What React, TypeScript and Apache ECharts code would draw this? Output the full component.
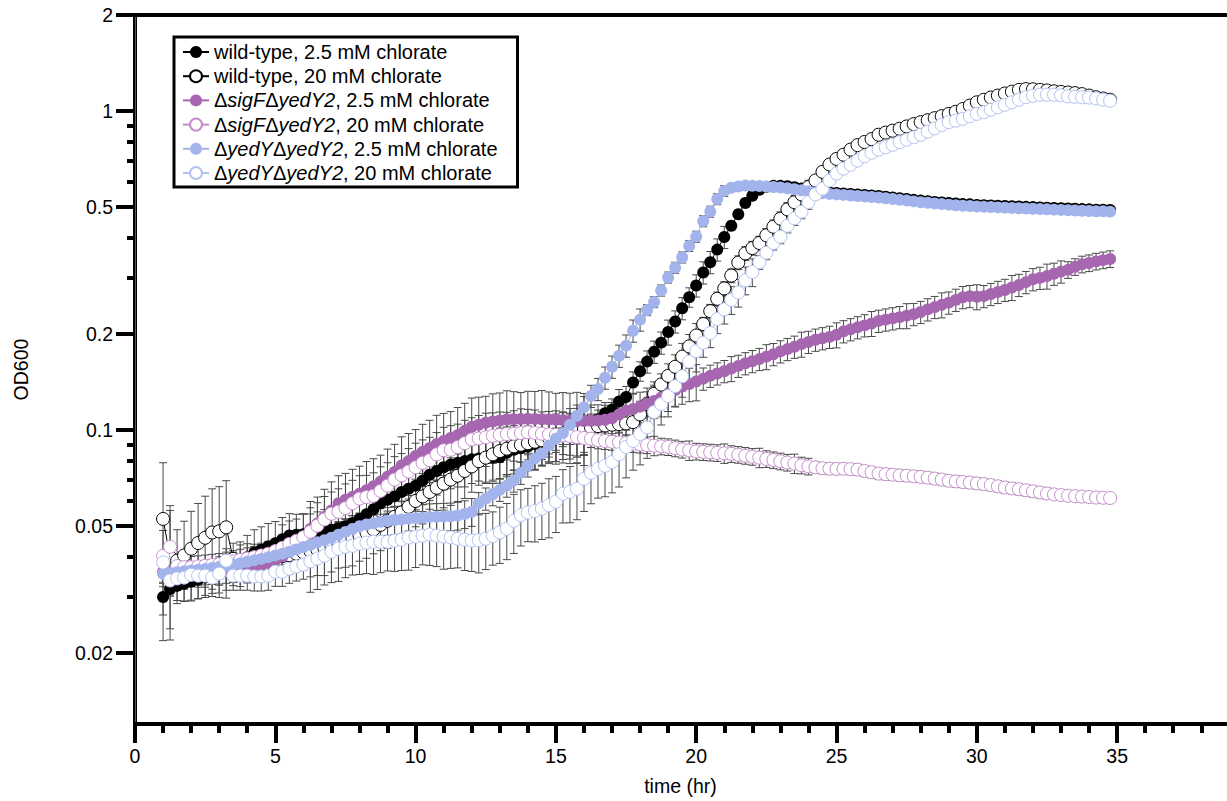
import React, { useEffect, useRef } from "react";
import * as echarts from "echarts";

// Sampling grid: one read every 15 min from 1 h to 34.75 h
const HOURS: number[] = Array.from({ length: 136 }, (_, i) => 1 + i * 0.25);

// OD600 means, one row = 2 h (8 reads)
const wt25 = [
  0.0300, 0.0318, 0.0325, 0.0330, 0.0335, 0.0340, 0.0345, 0.0350,
  0.0355, 0.0362, 0.0370, 0.0385, 0.0400, 0.0413, 0.0422, 0.0432,
  0.0442, 0.0455, 0.0468, 0.0470, 0.0472, 0.0475, 0.0478, 0.0482,
  0.0487, 0.0493, 0.0500, 0.0512, 0.0527, 0.0545, 0.0565, 0.0590,
  0.0605, 0.0620, 0.0640, 0.0655, 0.0670, 0.0695, 0.0725, 0.0745,
  0.0765, 0.0780, 0.0790, 0.0800, 0.0810, 0.0815, 0.0818, 0.0820,
  0.0822, 0.0850, 0.0868, 0.0878, 0.0888, 0.0905, 0.0920, 0.0935,
  0.0950, 0.0965, 0.0980, 0.0995, 0.1010, 0.1040, 0.1080, 0.1130,
  0.1160, 0.1230, 0.1270, 0.1410, 0.1530, 0.1640, 0.1760, 0.1880,
  0.2030, 0.2190, 0.2410, 0.2610, 0.2840, 0.3120, 0.3360, 0.3680,
  0.4030, 0.4370, 0.4750, 0.5150, 0.5430, 0.5670, 0.5790, 0.5830,
  0.583, 0.581, 0.577, 0.572, 0.567, 0.562, 0.559, 0.556,
  0.554, 0.552, 0.550, 0.548, 0.546, 0.544, 0.542, 0.539,
  0.536, 0.533, 0.530, 0.527, 0.524, 0.522, 0.519, 0.517,
  0.515, 0.513, 0.511, 0.510, 0.508, 0.507, 0.506, 0.505,
  0.504, 0.503, 0.502, 0.501, 0.500, 0.499, 0.498, 0.497,
  0.496, 0.495, 0.494, 0.493, 0.492, 0.491, 0.491, 0.490,
];

const wt20 = [
  0.0527, 0.0400, 0.0390, 0.0405, 0.0425, 0.0443, 0.0460, 0.0478,
  0.0482, 0.0496, 0.0395, 0.0390, 0.0390, 0.0392, 0.0395, 0.0397,
  0.0400, 0.0403, 0.0406, 0.0410, 0.0414, 0.0418, 0.0422, 0.0427,
  0.0433, 0.0440, 0.0448, 0.0458, 0.0468, 0.0478, 0.0488, 0.0505,
  0.0520, 0.0535, 0.0552, 0.0575, 0.0600, 0.0620, 0.0640, 0.0660,
  0.0680, 0.0700, 0.0720, 0.0745, 0.0770, 0.0800, 0.0820, 0.0840,
  0.0860, 0.0875, 0.0890, 0.0900, 0.0910, 0.0920, 0.0930, 0.0945,
  0.0960, 0.0975, 0.0990, 0.1000, 0.1010, 0.1020, 0.1030, 0.1035,
  0.1040, 0.1045, 0.1050, 0.1060, 0.1120, 0.1210, 0.1300, 0.1390,
  0.1480, 0.1580, 0.1700, 0.1830, 0.1980, 0.2150, 0.2360, 0.2580,
  0.2780, 0.3050, 0.3350, 0.3580, 0.3720, 0.3860, 0.4080, 0.4340,
  0.4600, 0.4920, 0.5180, 0.5480, 0.5780, 0.6060, 0.6450, 0.6800,
  0.7080, 0.7300, 0.7570, 0.7820, 0.8000, 0.8170, 0.8430, 0.8560,
  0.8680, 0.8800, 0.8950, 0.9100, 0.9230, 0.9360, 0.9500, 0.9640,
  0.9790, 0.9950, 1.0150, 1.0400, 1.0650, 1.0850, 1.1030, 1.1180,
  1.1350, 1.1500, 1.1650, 1.1720, 1.1700, 1.1650, 1.1600, 1.1530,
  1.1480, 1.1430, 1.1380, 1.1300, 1.1180, 1.1050, 1.0950, 1.0850,
];

const sigF25 = [
  0.0360, 0.0358, 0.0356, 0.0355, 0.0355, 0.0355, 0.0356, 0.0357,
  0.0358, 0.0360, 0.0362, 0.0365, 0.0368, 0.0372, 0.0377, 0.0384,
  0.0392, 0.0402, 0.0415, 0.0430, 0.0450, 0.0490, 0.0510, 0.0535,
  0.0560, 0.0590, 0.0605, 0.0618, 0.0632, 0.0648, 0.0667, 0.0690,
  0.0715, 0.0740, 0.0775, 0.0800, 0.0830, 0.0855, 0.0880, 0.0905,
  0.0925, 0.0945, 0.0965, 0.0995, 0.1025, 0.1040, 0.1055, 0.1065,
  0.1072, 0.1080, 0.1082, 0.1084, 0.1085, 0.1084, 0.1082, 0.1080,
  0.1078, 0.1075, 0.1070, 0.1068, 0.1068, 0.1070, 0.1072, 0.1078,
  0.1090, 0.1120, 0.1150, 0.1165, 0.1185, 0.1210, 0.1235, 0.1265,
  0.1300, 0.1335, 0.1370, 0.1395, 0.1420, 0.1450, 0.1480, 0.1505,
  0.1530, 0.1560, 0.1590, 0.1620, 0.1645, 0.1670, 0.1700, 0.1730,
  0.1765, 0.1795, 0.1825, 0.1860, 0.1890, 0.1920, 0.1940, 0.1960,
  0.1990, 0.2040, 0.2070, 0.2100, 0.2130, 0.2160, 0.2200, 0.2220,
  0.2240, 0.2260, 0.2285, 0.2310, 0.2345, 0.2390, 0.2430, 0.2470,
  0.2510, 0.2560, 0.2610, 0.2630, 0.2620, 0.2630, 0.2670, 0.2710,
  0.2750, 0.2800, 0.2850, 0.2910, 0.2970, 0.3000, 0.3040, 0.3090,
  0.3140, 0.3180, 0.3250, 0.3310, 0.3340, 0.3380, 0.3410, 0.3440,
];

const sigF20 = [
  0.0404, 0.0431, 0.0375, 0.0372, 0.0372, 0.0374, 0.0376, 0.0378,
  0.0380, 0.0384, 0.0388, 0.0392, 0.0396, 0.0400, 0.0405, 0.0410,
  0.0418, 0.0428, 0.0440, 0.0450, 0.0462, 0.0480, 0.0502, 0.0525,
  0.0547, 0.0555, 0.0570, 0.0590, 0.0610, 0.0617, 0.0623, 0.0645,
  0.0670, 0.0700, 0.0722, 0.0742, 0.0765, 0.0790, 0.0805, 0.0840,
  0.0865, 0.0868, 0.0885, 0.0910, 0.0935, 0.0942, 0.0950, 0.0960,
  0.0966, 0.0972, 0.0975, 0.0980, 0.0985, 0.0980, 0.0975, 0.0970,
  0.0966, 0.0962, 0.0958, 0.0952, 0.0945, 0.0940, 0.0930, 0.0925,
  0.0920, 0.0915, 0.0910, 0.0906, 0.0902, 0.0898, 0.0894, 0.0890,
  0.0886, 0.0878, 0.0870, 0.0864, 0.0858, 0.0855, 0.0852, 0.0849,
  0.0846, 0.0843, 0.0838, 0.0832, 0.0826, 0.0820, 0.0813, 0.0806,
  0.0799, 0.0792, 0.0786, 0.0776, 0.0770, 0.0765, 0.0760, 0.0757,
  0.0756, 0.0757, 0.0755, 0.0752, 0.0745, 0.0738, 0.0731, 0.0728,
  0.0725, 0.0722, 0.0720, 0.0717, 0.0714, 0.0710, 0.0705, 0.0700,
  0.0694, 0.0691, 0.0688, 0.0685, 0.0681, 0.0678, 0.0673, 0.0667,
  0.0661, 0.0657, 0.0653, 0.0648, 0.0643, 0.0638, 0.0633, 0.0629,
  0.0626, 0.0623, 0.0621, 0.0619, 0.0617, 0.0615, 0.0614, 0.0613,
];

const yedY25 = [
  0.0355, 0.0357, 0.0359, 0.0361, 0.0363, 0.0365, 0.0367, 0.0370,
  0.0373, 0.0376, 0.0379, 0.0383, 0.0387, 0.0391, 0.0395, 0.0400,
  0.0405, 0.0410, 0.0416, 0.0423, 0.0430, 0.0437, 0.0445, 0.0452,
  0.0460, 0.0470, 0.0480, 0.0490, 0.0500, 0.0506, 0.0511, 0.0516,
  0.0520, 0.0523, 0.0525, 0.0528, 0.0530, 0.0532, 0.0534, 0.0535,
  0.0536, 0.0537, 0.0540, 0.0546, 0.0555, 0.0590, 0.0610, 0.0630,
  0.0650, 0.0670, 0.0695, 0.0735, 0.0775, 0.0815, 0.0845, 0.0895,
  0.0940, 0.0980, 0.1040, 0.1110, 0.1180, 0.1280, 0.1345, 0.1460,
  0.1580, 0.1710, 0.1840, 0.2050, 0.2220, 0.2380, 0.2520, 0.2740,
  0.3010, 0.3230, 0.3480, 0.3780, 0.4040, 0.4520, 0.4840, 0.5300,
  0.5620, 0.5750, 0.5800, 0.5840, 0.5830, 0.5820, 0.5800, 0.5780,
  0.576, 0.573, 0.569, 0.565, 0.561, 0.556, 0.553, 0.550,
  0.548, 0.546, 0.544, 0.542, 0.540, 0.538, 0.536, 0.533,
  0.530, 0.527, 0.524, 0.521, 0.518, 0.516, 0.513, 0.511,
  0.509, 0.507, 0.505, 0.504, 0.502, 0.501, 0.500, 0.499,
  0.498, 0.497, 0.496, 0.495, 0.494, 0.493, 0.492, 0.491,
  0.490, 0.489, 0.488, 0.487, 0.486, 0.485, 0.485, 0.484,
];

const yedY20 = [
  0.0385, 0.0338, 0.0343, 0.0345, 0.0352, 0.0350, 0.0350, 0.0345,
  0.0355, 0.0390, 0.0350, 0.0350, 0.0350, 0.0348, 0.0348, 0.0350,
  0.0360, 0.0360, 0.0368, 0.0374, 0.0379, 0.0388, 0.0396, 0.0404,
  0.0416, 0.0425, 0.0431, 0.0434, 0.0441, 0.0444, 0.0447, 0.0447,
  0.0447, 0.0451, 0.0454, 0.0461, 0.0464, 0.0467, 0.0471, 0.0467,
  0.0464, 0.0461, 0.0457, 0.0454, 0.0451, 0.0452, 0.0457, 0.0466,
  0.0478, 0.0491, 0.0520, 0.0542, 0.0552, 0.0558, 0.0568, 0.0582,
  0.0597, 0.0632, 0.0641, 0.0655, 0.0704, 0.0735, 0.0756, 0.0773,
  0.0795, 0.0840, 0.0886, 0.0925, 0.0973, 0.1020, 0.1140, 0.1207,
  0.1280, 0.1374, 0.1475, 0.1640, 0.1770, 0.1880, 0.2015, 0.2230,
  0.2390, 0.2560, 0.2700, 0.2950, 0.3130, 0.3360, 0.3600, 0.3860,
  0.4040, 0.4370, 0.4610, 0.4840, 0.5180, 0.5480, 0.5710, 0.6060,
  0.6370, 0.6600, 0.6790, 0.7000, 0.7220, 0.7400, 0.7570, 0.7700,
  0.7840, 0.7990, 0.8130, 0.8280, 0.8430, 0.8620, 0.8830, 0.9050,
  0.9230, 0.9330, 0.9450, 0.9630, 0.9800, 0.9920, 1.0100, 1.0280,
  1.0460, 1.0650, 1.0850, 1.1050, 1.1170, 1.1250, 1.1250, 1.1250,
  1.1200, 1.1120, 1.1080, 1.1050, 1.1020, 1.0950, 1.0850, 1.0770,
];

// Standard deviation of each mean, as percent of the mean
const errWt25 = [
  27, 25, 12, 12, 13, 13, 12, 12,
  13, 13, 12, 16, 17, 18, 18, 18,
  17, 17, 17, 16, 16, 15, 16, 17,
  16, 15, 16, 17, 16, 16, 15, 16,
  16, 17, 16, 15, 16, 16, 17, 16,
  15, 16, 16, 17, 16, 15, 16, 16,
  17, 16, 16, 15, 16, 17, 16, 16,
  16, 8, 8, 9, 8, 8, 7, 8,
  8, 9, 8, 8, 7, 8, 8, 8,
  9, 8, 8, 7, 8, 8, 8, 8,
  8, 3, 3, 3, 3, 3, 3, 3,
  3, 1, 1, 1, 1, 1, 1, 1,
  1, 1, 1, 1, 1, 1, 1, 1,
  1, 1, 1, 1, 1, 1, 1, 1,
  1, 1, 1, 1, 1, 1, 1, 1,
  1, 1, 1, 1, 1, 1, 1, 1,
  1, 1, 1, 1, 1, 1, 1, 1,
];

const errWt20 = [
  50, 45, 25, 28, 31, 33, 35, 37,
  38, 40, 12, 12, 13, 12, 12, 13,
  12, 12, 13, 12, 12, 17, 17, 18,
  17, 16, 17, 18, 17, 17, 16, 17,
  18, 17, 17, 16, 17, 18, 17, 17,
  16, 17, 17, 18, 17, 16, 17, 17,
  18, 17, 16, 17, 17, 18, 17, 16,
  17, 17, 18, 17, 17, 9, 9, 10,
  9, 9, 8, 9, 10, 9, 9, 8,
  9, 9, 10, 9, 9, 5, 5, 5,
  5, 5, 5, 5, 5, 5, 5, 5,
  5, 5, 5, 5, 5, 1.5, 1.5, 1.5,
  1.5, 1.5, 1.5, 1.5, 1.5, 1.5, 1.5, 1.5,
  1.5, 1.5, 1.5, 1.5, 1.5, 1.5, 1.5, 1.5,
  1.5, 1.5, 1.5, 1.5, 1.5, 1.5, 1.5, 1.5,
  1.5, 1.5, 1.5, 1.5, 1.5, 1.5, 1.5, 1.5,
  1.5, 1.5, 1.5, 1.5, 1.5, 1.5, 1.5, 1.5,
];

const errSigF25 = [
  8, 8, 8, 8, 8, 8, 8, 8,
  8, 8, 8, 8, 8, 8, 8, 8,
  8, 8, 8, 8, 8, 22, 21, 22,
  23, 22, 21, 22, 22, 23, 22, 21,
  22, 22, 23, 22, 21, 22, 22, 23,
  22, 21, 22, 22, 23, 22, 21, 22,
  22, 23, 22, 21, 22, 22, 23, 22,
  21, 22, 22, 23, 22, 12, 12, 11,
  12, 12, 13, 12, 11, 12, 12, 13,
  12, 11, 12, 12, 13, 8, 8, 8,
  8, 9, 8, 8, 8, 8, 9, 8,
  8, 8, 8, 9, 8, 8, 8, 8,
  9, 8, 8, 8, 8, 9, 8, 8,
  8, 8, 9, 8, 8, 8, 8, 9,
  8, 8, 8, 8, 9, 8, 8, 8,
  8, 9, 8, 8, 8, 8, 9, 8,
  8, 6, 6, 6, 6, 6, 6, 6,
];

const errSigF20 = [
  20, 30, 8, 8, 8, 8, 8, 8,
  8, 8, 8, 8, 8, 8, 8, 8,
  8, 18, 18, 17, 18, 19, 18, 18,
  17, 18, 19, 18, 18, 17, 18, 19,
  18, 18, 17, 18, 19, 18, 18, 17,
  18, 19, 18, 18, 17, 18, 19, 18,
  18, 17, 18, 19, 18, 18, 17, 18,
  19, 18, 18, 17, 18, 6, 6, 6,
  6, 7, 6, 6, 6, 6, 7, 6,
  6, 6, 6, 7, 6, 6, 6, 6,
  7, 6, 6, 6, 6, 7, 6, 6,
  6, 6, 7, 6, 6, 4, 4, 4,
  4, 4, 4, 4, 4, 4, 4, 4,
  4, 4, 4, 4, 4, 4, 4, 4,
  4, 4, 4, 4, 4, 4, 4, 4,
  4, 4, 4, 4, 4, 4, 4, 1.5,
  1.5, 1.5, 1.5, 1.5, 1.5, 1.5, 1.5, 1.5,
];

const errYedY25 = [
  6, 6, 6, 6, 6, 6, 6, 6,
  6, 6, 6, 6, 6, 10, 10, 10,
  10, 10, 10, 10, 10, 10, 10, 10,
  10, 10, 10, 10, 10, 10, 10, 10,
  10, 10, 10, 10, 10, 10, 10, 10,
  10, 10, 10, 10, 10, 8, 8, 8,
  8, 8, 8, 8, 8, 8, 8, 8,
  8, 8, 8, 8, 8, 8, 8, 8,
  8, 8, 8, 8, 8, 4, 4, 4,
  4, 4, 4, 4, 4, 4, 4, 4,
  4, 1, 1, 1, 1, 1, 1, 1,
  1, 1, 1, 1, 1, 1, 1, 1,
  1, 1, 1, 1, 1, 1, 1, 1,
  1, 1, 1, 1, 1, 1, 1, 1,
  1, 1, 1, 1, 1, 1, 1, 1,
  1, 1, 1, 1, 1, 1, 1, 1,
  1, 1, 1, 1, 1, 1, 1, 1,
];

const errYedY20 = [
  8, 10, 8, 8, 8, 8, 8, 8,
  8, 9, 10, 10, 10, 10, 10, 10,
  10, 10, 10, 10, 10, 20, 20, 19,
  20, 21, 20, 19, 20, 20, 21, 20,
  19, 20, 20, 21, 20, 19, 20, 20,
  21, 20, 19, 20, 20, 21, 20, 19,
  20, 20, 21, 20, 19, 20, 20, 21,
  20, 19, 20, 20, 21, 20, 19, 20,
  20, 21, 20, 19, 20, 20, 20, 14,
  14, 14, 14, 14, 14, 10, 10, 10,
  10, 10, 10, 10, 10, 5, 5, 5,
  5, 5, 5, 5, 5, 1.5, 1.5, 1.5,
  1.5, 1.5, 1.5, 1.5, 1.5, 1.5, 1.5, 1.5,
  1.5, 1.5, 1.5, 1.5, 1.5, 1.5, 1.5, 1.5,
  1.5, 1.5, 1.5, 1.5, 1.5, 1.5, 1.5, 1.5,
  1.5, 1.5, 1.5, 1.5, 1.5, 1.5, 1.5, 1.5,
  1.5, 1.5, 1.5, 1.5, 1.5, 1.5, 1.5, 1.5,
];

// Axis ticks
const X_MAJOR = [0, 5, 10, 15, 20, 25, 30, 35];
const X_MINOR = [1, 2, 3, 4, 6, 7, 8, 9, 11, 12, 13, 14, 16, 17, 18, 19, 21, 22, 23, 24, 26, 27, 28, 29, 31, 32, 33, 34, 36, 37, 38];
const Y_MAJOR = [0.02, 0.05, 0.1, 0.2, 0.5, 1, 2];
const Y_MINOR = [0.03, 0.04, 0.06, 0.07, 0.08, 0.09, 0.3, 0.4, 0.6, 0.7, 0.8, 0.9];
const X_MAX = 38.88;
const Y_MIN = 0.012;
const Y_MAX = 2;

const FONT = "'Liberation Sans', Arial, Helvetica, sans-serif";

type Strain = {
  name: string;
  label: string;
  values: number[];
  err: number[];
  line: string;
  fill: string;
  border: string;
  hollow: boolean;
};

// Drawing order = legend order; later series sit on top
const STRAINS: Strain[] = [
  { name: "wild-type, 2.5 mM chlorate", label: "{n|wild-type, 2.5 mM chlorate}", values: wt25, err: errWt25, line: "#000000", fill: "#000000", border: "#000000", hollow: false },
  { name: "wild-type, 20 mM chlorate", label: "{n|wild-type, 20 mM chlorate}", values: wt20, err: errWt20, line: "#000000", fill: "#ffffff", border: "#000000", hollow: true },
  { name: "ΔsigFΔyedY2, 2.5 mM chlorate", label: "{n|Δ}{i|sigF}{n|Δ}{i|yedY2}{n|, 2.5 mM chlorate}", values: sigF25, err: errSigF25, line: "#a666b0", fill: "#a666b0", border: "#a666b0", hollow: false },
  { name: "ΔsigFΔyedY2, 20 mM chlorate", label: "{n|Δ}{i|sigF}{n|Δ}{i|yedY2}{n|, 20 mM chlorate}", values: sigF20, err: errSigF20, line: "#c58ccc", fill: "#ffffff", border: "#c58ccc", hollow: true },
  { name: "ΔyedYΔyedY2, 2.5 mM chlorate", label: "{n|Δ}{i|yedY}{n|Δ}{i|yedY2}{n|, 2.5 mM chlorate}", values: yedY25, err: errYedY25, line: "#a2b4eb", fill: "#a2b4eb", border: "#a2b4eb", hollow: false },
  { name: "ΔyedYΔyedY2, 20 mM chlorate", label: "{n|Δ}{i|yedY}{n|Δ}{i|yedY2}{n|, 20 mM chlorate}", values: yedY20, err: errYedY20, line: "#b2c2f0", fill: "#ffffff", border: "#b2c2f0", hollow: true },
];

const BAR_COLOR = "#4a4a4a";
const CAP = 4;

function errorBarItem(params: any, api: any) {
  const t = api.value(0);
  const lo = api.coord([t, api.value(1)]);
  const hi = api.coord([t, api.value(2)]);
  const style = { stroke: BAR_COLOR, lineWidth: 1 };
  return {
    type: "group",
    children: [
      { type: "line", shape: { x1: lo[0], y1: lo[1], x2: hi[0], y2: hi[1] }, style },
      { type: "line", shape: { x1: lo[0] - CAP, y1: lo[1], x2: lo[0] + CAP, y2: lo[1] }, style },
      { type: "line", shape: { x1: hi[0] - CAP, y1: hi[1], x2: hi[0] + CAP, y2: hi[1] }, style },
    ],
  };
}

function buildOption() {
  const labelOf: Record<string, string> = {};
  STRAINS.forEach((s) => (labelOf[s.name] = s.label));

  const barSeries = STRAINS.map((s) => ({
    type: "custom",
    xAxisIndex: 0,
    yAxisIndex: 0,
    z: 1,
    silent: true,
    renderItem: errorBarItem,
    encode: { x: 0, y: [1, 2] },
    data: HOURS.map((t, i) => {
      const v = s.values[i];
      const d = (v * s.err[i]) / 100;
      return [t, v - d, v + d];
    }),
  }));

  const lineSeries = STRAINS.map((s) => ({
    type: "line",
    name: s.name,
    xAxisIndex: 0,
    yAxisIndex: 0,
    z: 3,
    data: HOURS.map((t, i) => [t, s.values[i]]),
    symbol: "circle",
    symbolSize: s.hollow ? 13 : 12,
    showSymbol: true,
    showAllSymbol: true,
    lineStyle: { width: 1, color: s.line },
    itemStyle: { color: s.fill, borderColor: s.border, borderWidth: s.hollow ? 1 : 0 },
    emphasis: { disabled: true },
  }));

  const tickText = { fontSize: 19.5, fontFamily: FONT, color: "#000" };

  return {
    animation: false,
    backgroundColor: "#ffffff",
    grid: { left: 135, top: 15, width: 1091, height: 711, containLabel: false },
    legend: {
      data: STRAINS.map((s) => s.name),
      orient: "vertical",
      left: 174,
      top: 37,
      padding: [5, 20, 4, 8],
      itemGap: 4.2,
      itemWidth: 26,
      itemHeight: 15,
      borderColor: "#000",
      borderWidth: 3,
      backgroundColor: "#ffffff",
      selectedMode: false,
      formatter: (name: string) => labelOf[name],
      textStyle: {
        fontSize: 20,
        fontFamily: FONT,
        color: "#000",
        lineHeight: 20,
        rich: {
          n: { fontSize: 20, fontFamily: FONT, color: "#000", lineHeight: 20 },
          i: { fontSize: 20, fontFamily: FONT, color: "#000", fontStyle: "italic", lineHeight: 20 },
        },
      },
    },
    xAxis: [
      {
        type: "value",
        min: 0,
        max: X_MAX,
        position: "bottom",
        name: "time (hr)",
        nameLocation: "middle",
        nameGap: 52,
        nameTextStyle: tickText,
        axisLine: { show: true, onZero: false, lineStyle: { color: "#000", width: 4 } },
        axisTick: { show: true, customValues: X_MAJOR, length: 19, lineStyle: { color: "#000", width: 4 } },
        axisLabel: { customValues: X_MAJOR, margin: 22, ...tickText },
        splitLine: { show: false },
      },
      {
        type: "value",
        min: 0,
        max: X_MAX,
        position: "bottom",
        axisLine: { show: false },
        axisTick: { show: true, customValues: X_MINOR, length: 9, lineStyle: { color: "#000", width: 4 } },
        axisLabel: { show: false },
        splitLine: { show: false },
      },
      {
        type: "value",
        min: 0,
        max: X_MAX,
        position: "top",
        axisLine: { show: true, onZero: false, lineStyle: { color: "#000", width: 4 } },
        axisTick: { show: false },
        axisLabel: { show: false },
        splitLine: { show: false },
      },
    ],
    yAxis: [
      {
        type: "log",
        logBase: 10,
        min: Y_MIN,
        max: Y_MAX,
        position: "left",
        name: "OD600",
        nameLocation: "middle",
        nameGap: 104,
        nameRotate: 90,
        nameTextStyle: tickText,
        axisLine: { show: true, onZero: false, lineStyle: { color: "#000", width: 4 } },
        axisTick: { show: true, customValues: Y_MAJOR, length: 19, lineStyle: { color: "#000", width: 4 } },
        axisLabel: {
          customValues: Y_MAJOR,
          margin: 22,
          ...tickText,
          formatter: (v: number) => String(+Number(v).toPrecision(3)),
        },
        splitLine: { show: false },
        minorTick: { show: false },
      },
      {
        type: "log",
        logBase: 10,
        min: Y_MIN,
        max: Y_MAX,
        position: "left",
        axisLine: { show: false },
        axisTick: { show: true, customValues: Y_MINOR, length: 8, lineStyle: { color: "#000", width: 4 } },
        axisLabel: { show: false },
        splitLine: { show: false },
      },
      {
        type: "log",
        logBase: 10,
        min: Y_MIN,
        max: Y_MAX,
        position: "right",
        axisLine: { show: true, lineStyle: { color: "#5a5a5a", width: 1 } },
        axisTick: { show: false },
        axisLabel: { show: false },
        splitLine: { show: false },
      },
    ],
    series: [...barSeries, ...lineSeries],
  };
}

export default function App() {
  const ref = useRef<HTMLDivElement>(null);

  useEffect(() => {
    if (!ref.current) return;
    const chart = echarts.init(ref.current, undefined, { renderer: "svg" });
    chart.setOption(buildOption() as any);
    return () => chart.dispose();
  }, []);

  return (
    <div
      ref={ref}
      style={{ position: "absolute", left: 0, top: 0, width: 1227, height: 801, background: "#fff" }}
    />
  );
}
